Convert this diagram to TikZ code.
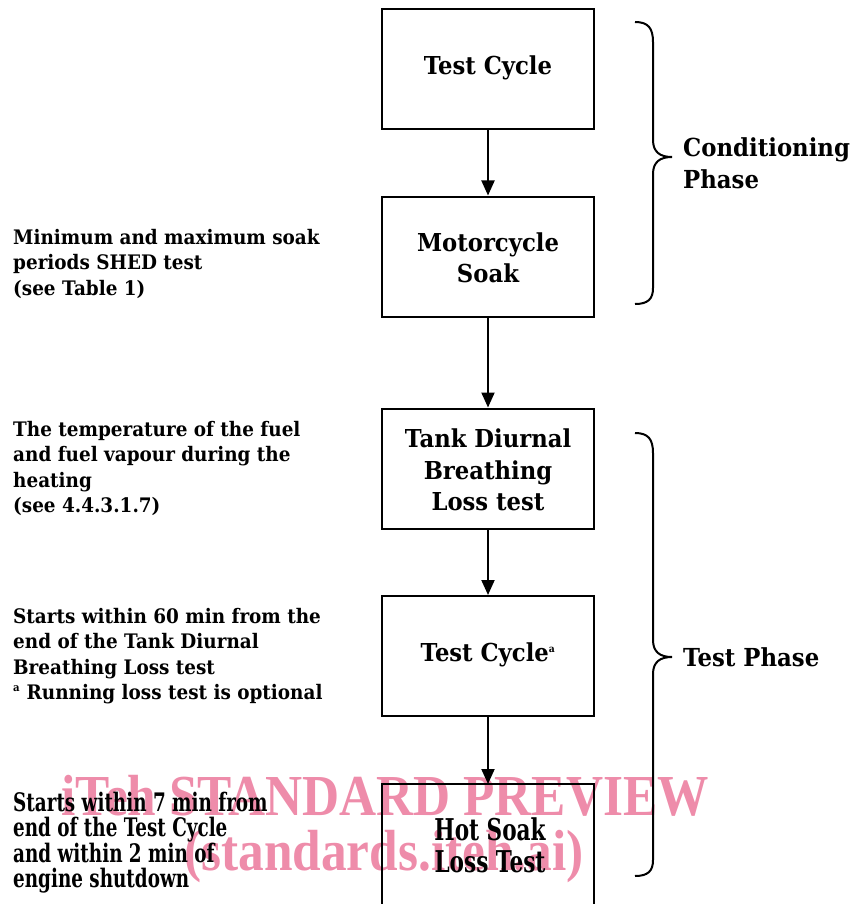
\documentclass[tikz,border=0pt]{standalone}
\usepackage{fontspec}
\usetikzlibrary{arrows.meta}
\newfontfamily\serifb[FakeStretch=0.92]{DejaVu Serif}
\newfontfamily\condf[FakeStretch=0.72]{DejaVu Serif}
\newfontfamily\wmfont[FakeStretch=0.885]{Liberation Serif}
\definecolor{wmpink}{RGB}{238,140,170}
\tikzset{
  stepbox/.style={draw=black, line width=2pt, minimum width=212pt, minimum height=120pt, inner sep=0pt},
  flow/.style={line width=2pt, -{Triangle[length=15pt,width=13pt]}},
  brace/.style={line width=2pt},
  boxtxt/.style={font=\serifb\bfseries\fontsize{24.7}{31.5}\selectfont, align=center},
  side/.style={font=\serifb\bfseries\fontsize{20}{25.5}\selectfont, anchor=base west, inner sep=0pt},
  sidec/.style={font=\condf\bfseries\fontsize{25.5}{25.5}\selectfont, anchor=base west, inner sep=0pt},
  phase/.style={font=\serifb\bfseries\fontsize{24.8}{32}\selectfont, anchor=base west, inner sep=0pt},
  wm/.style={font=\wmfont\bfseries\fontsize{58}{58}\selectfont, text=wmpink, anchor=base, inner sep=0pt}
}
\begin{document}
\begin{tikzpicture}[x=1pt,y=-1pt]
\useasboundingbox (0,0) rectangle (853,904);
% watermark
\node[wm] (wm1) at (385,815) {iTeh STANDARD PREVIEW};
\node[wm] (wm2) at (384,870) {(standards.iteh.ai)};
% boxes
\node[stepbox] (b1) at (488,69) {};
\node[boxtxt] (t1) at (488,68) {Test Cycle};
\node[stepbox] (b2) at (488,256.5) {};
\node[boxtxt] (t2) at (488,258) {Motorcycle\\Soak};
\node[stepbox] (b3) at (488,468.5) {};
\node[boxtxt] (t3) at (488,470) {Tank Diurnal\\Breathing\\Loss test};
\node[stepbox] (b4) at (488,656) {};
\node[boxtxt] (t4) at (488,655) {Test Cycle\textsuperscript{\fontsize{10}{10}\selectfont a}};
\draw[line width=2pt] (382,910) coordinate (b5sw) -- (382,784) coordinate (b5nw) -- (594,784) coordinate (b5ne) -- (594,910) coordinate (b5se);
\coordinate (b5n) at (488,784);
\node[font=\condf\bfseries\fontsize{30}{32}\selectfont, align=center] (t5) at (490,845) {Hot Soak\\Loss Test};
% arrows
\draw[flow] (b1.south) -- (b2.north);
\draw[flow] (b2.south) -- (b3.north);
\draw[flow] (b3.south) -- (b4.north);
\draw[flow] (b4.south) -- (b5n);
% braces
\draw[brace] (635,22) .. controls (648,22) and (653,28) .. (653,42) -- (653,140) .. controls (653,152) and (660,157) .. (672,157) coordinate (br1)
  .. controls (660,157) and (653,162) .. (653,174) -- (653,288) .. controls (653,299) and (648,304) .. (635,304);
\draw[brace] (635,433) .. controls (648,433) and (653,439) .. (653,453) -- (653,640) .. controls (653,652) and (660,657) .. (672,657) coordinate (br2)
  .. controls (660,657) and (653,662) .. (653,674) -- (653,860) .. controls (653,871) and (648,876) .. (635,876);
\node[phase] (p1) at (683,157) {Conditioning};
\node[phase] (p2) at (683,189) {Phase};
\node[phase] (p3) at (683,666) {Test Phase};
% side texts
\node[side] (s11) at (13,244) {Minimum and maximum soak};
\node[side] (s12) at (13,269.5) {periods SHED test};
\node[side] (s13) at (13,295) {(see Table 1)};
\node[side] (s21) at (13,436) {The temperature of the fuel};
\node[side] (s22) at (13,461.5) {and fuel vapour during the};
\node[side] (s23) at (13,487) {heating};
\node[side] (s24) at (13,512.5) {(see 4.4.3.1.7)};
\node[side] (s31) at (13,623) {Starts within 60 min from the};
\node[side] (s32) at (13,648.5) {end of the Tank Diurnal};
\node[side] (s33) at (13,674) {Breathing Loss test};
\node[side] (s34) at (13,699.5) {\textsuperscript{\fontsize{11}{11}\selectfont a} Running loss test is optional};
\node[sidec] (s41) at (13,811) {Starts within 7 min from};
\node[sidec] (s42) at (13,836.5) {end of the Test Cycle};
\node[sidec] (s43) at (13,862) {and within 2 min of};
\node[sidec] (s44) at (13,887.5) {engine shutdown};
\end{tikzpicture}
\end{document}
